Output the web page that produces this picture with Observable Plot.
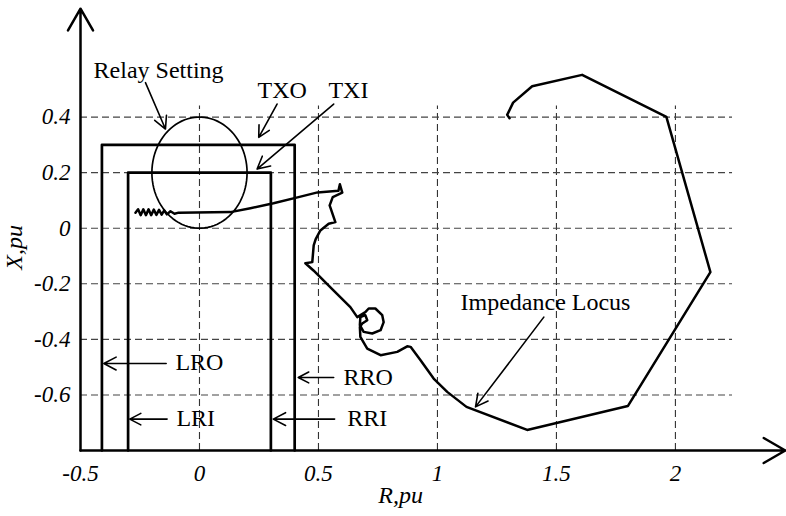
<!DOCTYPE html>
<html><head><meta charset="utf-8">
<script src="https://cdn.jsdelivr.net/npm/d3@7"></script>
<script src="https://cdn.jsdelivr.net/npm/@observablehq/plot@0.6"></script>
<style>
body{margin:0;background:#fff;}
#chart svg{background:#fff;}
#chart svg text{font-family:"Liberation Serif","Times New Roman",serif;}
</style></head><body><div id="chart"></div>
<script>
// Axis ticks and grid
const xTicks = [-0.5, 0, 0.5, 1, 1.5, 2];
const yTicks = [0.4, 0.2, 0, -0.2, -0.4, -0.6];
const gridR = [0, 0.5, 1, 1.5, 2];
const gridX = [0.4, 0.2, 0, -0.2, -0.4, -0.6];

// Quadrilateral zones (outer: TXO/LRO/RRO, inner: TXI/LRI/RRI)
const outerR = [-0.41, -0.41, 0.4, 0.4];
const outerX = [-0.8, 0.3, 0.3, -0.8];
const innerR = [-0.3, -0.3, 0.3, 0.3];
const innerX = [-0.8, 0.2, 0.2, -0.8];

// Relay setting (mho circle)
const relayCenterR = 0;
const relayCenterX = 0.2;
const relayRadius = 0.2;

// Impedance locus (R, X)
const locusR = [-0.269,-0.258,-0.247,-0.236,-0.225,-0.214,-0.203,-0.192,-0.181,-0.170,-0.159,-0.148,-0.137,-0.122,-0.105,-0.088,
  0.130,0.214,0.311,0.412,0.496,0.584,0.590,0.600,0.560,0.547,0.571,0.543,0.508,0.488,0.480,0.474,0.445,0.479,
  0.563,0.634,0.663,0.697,0.711,0.739,0.768,0.774,0.761,0.726,0.690,0.674,0.676,0.697,0.705,0.684,0.674,0.676,
  0.705,0.761,0.831,0.873,0.887,0.929,0.984,1.041,1.122,1.377,1.800,2.147,1.962,1.608,1.398,1.318,1.293,1.303];
const locusX = [0.056,0.068,0.047,0.068,0.047,0.068,0.047,0.067,0.048,0.066,0.049,0.064,0.050,0.061,0.052,0.056,
  0.058,0.072,0.090,0.111,0.129,0.135,0.158,0.128,0.112,0.082,0.022,0.016,-0.008,-0.040,-0.062,-0.122,-0.126,-0.152,
  -0.224,-0.284,-0.320,-0.302,-0.289,-0.289,-0.313,-0.338,-0.367,-0.379,-0.373,-0.349,-0.320,-0.313,-0.331,-0.343,-0.355,-0.391,
  -0.433,-0.457,-0.445,-0.425,-0.427,-0.475,-0.541,-0.589,-0.643,-0.726,-0.640,-0.158,0.401,0.552,0.511,0.452,0.408,0.396];

// Annotations
const labelText = ["Relay Setting", "TXO", "TXI", "LRO", "LRI", "RRO", "RRI", "Impedance Locus"];
const labelR = [-0.445, 0.244, 0.542, -0.101, -0.097, 0.605, 0.621, 1.097];
const labelX = [0.541, 0.469, 0.469, -0.511, -0.711, -0.565, -0.711, -0.293];
const arrowR1 = [-0.227, 0.326, 0.564, -0.140, -0.136, 0.564, 0.568, 1.447];
const arrowX1 = [0.524, 0.447, 0.447, -0.487, -0.687, -0.537, -0.687, -0.320];
const arrowR2 = [-0.143, 0.249, 0.242, -0.402, -0.293, 0.415, 0.310, 1.160];
const arrowX2 = [0.357, 0.327, 0.213, -0.487, -0.687, -0.537, -0.687, -0.643];

const locus = locusR.map((r, i) => ({r, x: locusX[i]}));
const zones = [
  ...outerR.map((r, i) => ({zone: "outer", r, x: outerX[i]})),
  ...innerR.map((r, i) => ({zone: "inner", r, x: innerX[i]}))
];
const circle = d3.range(0, 361, 4).map(a => ({
  r: relayCenterR + relayRadius * Math.cos(a * Math.PI / 180),
  x: relayCenterX + relayRadius * Math.sin(a * Math.PI / 180)
}));
const arrows = arrowR1.map((r, i) => ({r1: r, x1: arrowX1[i], r2: arrowR2[i], x2: arrowX2[i]}));
const labels = labelText.map((t, i) => ({t, r: labelR[i], x: labelX[i]}));

const chart = Plot.plot({
  width: 786,
  height: 516,
  marginLeft: 80,
  marginRight: 4,
  marginTop: 11,
  marginBottom: 66,
  x: {domain: [-0.5, 2.45], axis: null},
  y: {domain: [-0.8, 0.78], axis: null},
  style: {fontFamily: "Liberation Serif", background: "#fff", color: "#000"},
  marks: [
    Plot.ruleX(gridR, {x: d => d, y1: -0.8, y2: 0.44, stroke: "#333", strokeWidth: 1.1, strokeDasharray: "7,4"}),
    Plot.ruleY(gridX, {y: d => d, x1: -0.5, x2: 2.24, stroke: "#444", strokeWidth: 1.1, strokeDasharray: "7,4"}),
    Plot.line(zones, {x: "r", y: "x", z: "zone", stroke: "#000", strokeWidth: 2.7, curve: "linear"}),
    Plot.line(circle, {x: "r", y: "x", stroke: "#000", strokeWidth: 1.7}),
    Plot.line(locus, {x: "r", y: "x", stroke: "#000", strokeWidth: 2.5, strokeLinejoin: "round"}),
    Plot.arrow(arrows, {x1: "r1", y1: "x1", x2: "r2", y2: "x2", stroke: "#000", strokeWidth: 1.6, headLength: 13, headAngle: 55}),
    Plot.text(labels, {x: "r", y: "x", text: "t", textAnchor: "start", lineAnchor: "bottom", fontSize: 24, fill: "#000"}),
    Plot.arrow([0], {x1: -0.5, y1: -0.8, x2: -0.5, y2: 0.79, stroke: "#000", strokeWidth: 2.5, headLength: 15, headAngle: 60}),
    Plot.arrow([0], {x1: -0.5, y1: -0.8, x2: 2.462, y2: -0.8, stroke: "#000", strokeWidth: 2.5, headLength: 15, headAngle: 60}),
    Plot.text(xTicks, {x: d => d, y: -0.8, dy: 30, text: d => String(d), textAnchor: "middle", lineAnchor: "bottom", fontSize: 23, fontStyle: "italic", fill: "#000"}),
    Plot.text(yTicks, {x: -0.5, y: d => d, dx: -10, text: d => String(d), textAnchor: "end", lineAnchor: "middle", fontSize: 23, fontStyle: "italic", fill: "#000"}),
    Plot.text(["R,pu"], {x: 0.845, y: -0.988, text: d => d, textAnchor: "middle", lineAnchor: "bottom", fontSize: 24, fontStyle: "italic", fill: "#000"}),
    Plot.text(["X,pu"], {x: -0.744, y: -0.069, text: d => d, textAnchor: "middle", lineAnchor: "bottom", rotate: -90, fontSize: 24, fontStyle: "italic", fill: "#000"})
  ]
});
document.getElementById("chart").appendChild(chart);
</script></body></html>
